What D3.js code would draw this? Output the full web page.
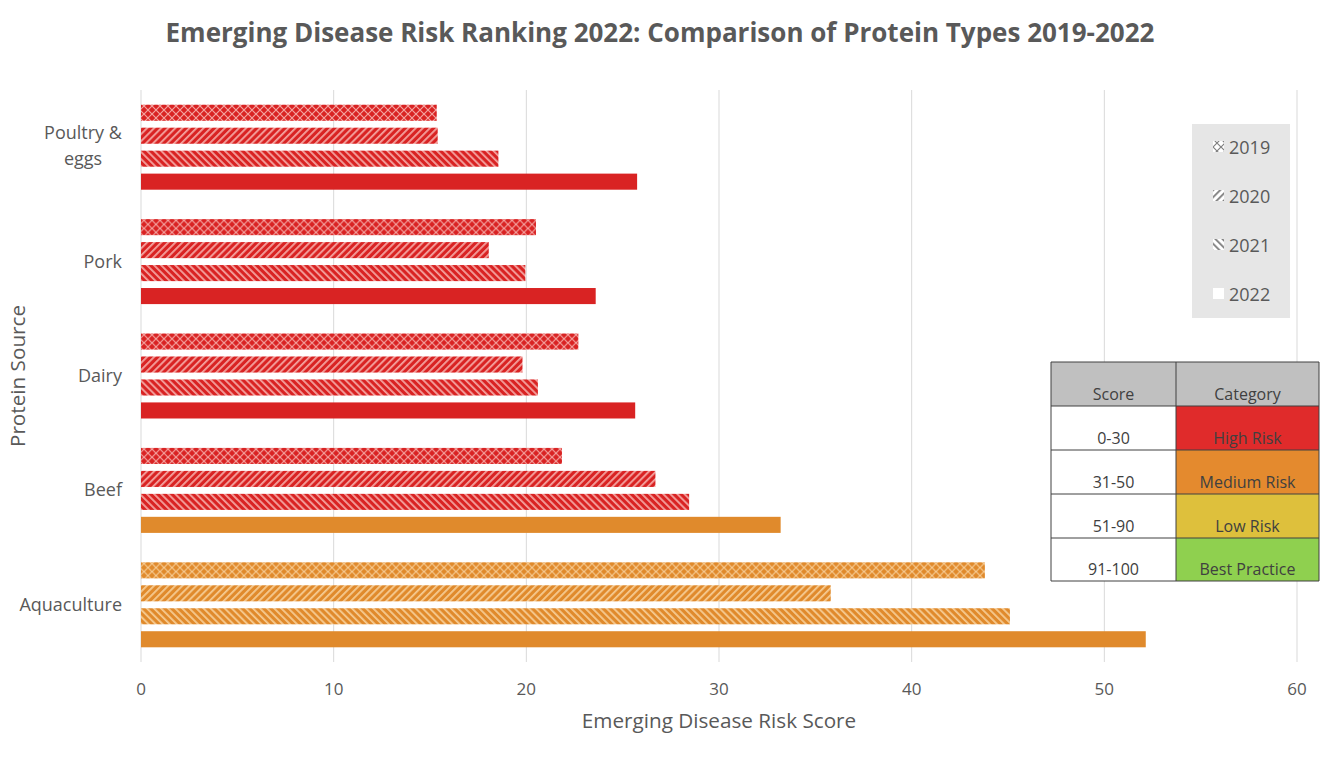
<!DOCTYPE html>
<html>
<head>
<meta charset="utf-8">
<script src="https://cdn.jsdelivr.net/npm/d3@7"></script>
<style>
  body { margin: 0; background: #fff; }
  svg { font-family: "Open Sans", sans-serif; }
</style>
</head>
<body>
<div id="chart"></div>
<script>
const width = 1320;
const height = 757;

// data
const categories = ["Poultry & eggs", "Pork", "Dairy", "Beef", "Aquaculture"];
const years = ["2019", "2020", "2021", "2022"];
const values2019 = [15.35, 20.5, 22.7, 21.85, 43.8];
const values2020 = [15.4, 18.05, 19.8, 26.7, 35.8];
const values2021 = [18.55, 19.95, 20.6, 28.45, 45.1];
const values2022 = [25.75, 23.6, 25.65, 33.2, 52.15];
const xTicks = [0, 10, 20, 30, 40, 50, 60];
const tableScores = ["0-30", "31-50", "51-90", "91-100"];
const tableCategories = ["High Risk", "Medium Risk", "Low Risk", "Best Practice"];

const seriesValues = [values2019, values2020, values2021, values2022];
const riskColors = {
    high: { base: "#d92323", light: "#f4a3a0" },
    medium: { base: "#e08a2c", light: "#f6cb92" }
};
const tableColors = ["#e02b2b", "#e48a2e", "#dec03c", "#8fd04f"];
const textColor = "#595959";

const margin = { top: 90, right: 23, bottom: 95, left: 141 };

const svg = d3.select("#chart")
    .append("svg")
    .attr("width", width)
    .attr("height", height);

const defs = svg.append("defs");

// hatch patterns for each year / risk colour
function makePatterns(key, base, light) {
    const p19 = defs.append("pattern")
        .attr("id", "p2019-" + key)
        .attr("patternUnits", "userSpaceOnUse")
        .attr("width", 8).attr("height", 8);
    p19.append("rect").attr("width", 8).attr("height", 8).attr("fill", base);
    p19.append("path")
        .attr("d", "M0,0 L8,8 M8,0 L0,8")
        .attr("stroke", light).attr("stroke-width", 1.2);

    const p20 = defs.append("pattern")
        .attr("id", "p2020-" + key)
        .attr("patternUnits", "userSpaceOnUse")
        .attr("width", 5).attr("height", 5)
        .attr("patternTransform", "rotate(45)");
    p20.append("rect").attr("width", 5).attr("height", 5).attr("fill", base);
    p20.append("rect").attr("width", 1.8).attr("height", 5).attr("fill", light);

    const p21 = defs.append("pattern")
        .attr("id", "p2021-" + key)
        .attr("patternUnits", "userSpaceOnUse")
        .attr("width", 5).attr("height", 5)
        .attr("patternTransform", "rotate(-45)");
    p21.append("rect").attr("width", 5).attr("height", 5).attr("fill", base);
    p21.append("rect").attr("width", 1.8).attr("height", 5).attr("fill", light);
}
Object.keys(riskColors).forEach(k => makePatterns(k, riskColors[k].base, riskColors[k].light));
makePatterns("legend", "#ffffff", "#7f7f7f");

// scores up to 30 are high risk, above that medium
const riskOf = v => v <= 30 ? "high" : "medium";

function fillFor(year, risk) {
    if (year === "2022") return riskColors[risk].base;
    return "url(#p" + year + "-" + risk + ")";
}

const x = d3.scaleLinear()
    .domain([0, 60])
    .range([margin.left, width - margin.right]);

const y = d3.scaleBand()
    .domain(categories)
    .range([margin.top, height - margin.bottom]);

const yInner = d3.scaleBand()
    .domain(years)
    .range([0, y.bandwidth()])
    .paddingInner(0.3)
    .paddingOuter(0.64);

const plotBottom = height - margin.bottom;

// gridlines
svg.append("g")
    .selectAll("line")
    .data(xTicks)
    .join("line")
    .attr("x1", d => x(d)).attr("x2", d => x(d))
    .attr("y1", margin.top).attr("y2", plotBottom)
    .attr("stroke", "#d9d9d9")
    .attr("stroke-width", 1);

// bars
const groups = svg.append("g")
    .selectAll("g")
    .data(categories)
    .join("g")
    .attr("transform", d => `translate(0,${y(d)})`);

groups.selectAll("rect")
    .data((c, i) => years.map((yr, j) => ({ year: yr, value: seriesValues[j][i] })))
    .join("rect")
    .attr("x", x(0))
    .attr("y", d => yInner(d.year))
    .attr("width", d => x(d.value) - x(0))
    .attr("height", yInner.bandwidth())
    .attr("fill", d => fillFor(d.year, riskOf(d.value)));

// x axis labels
svg.append("g")
    .selectAll("text")
    .data(xTicks)
    .join("text")
    .attr("x", d => x(d))
    .attr("y", 695)
    .attr("text-anchor", "middle")
    .attr("font-size", 17)
    .attr("fill", textColor)
    .text(d => d);

// category labels
const catLabels = svg.append("g")
    .selectAll("text")
    .data(categories)
    .join("text")
    .attr("font-size", 18)
    .attr("fill", textColor);

catLabels.each(function(d) {
    const t = d3.select(this);
    const cy = y(d) + y.bandwidth() / 2;
    if (d === "Poultry & eggs") {
        const lines = ["Poultry &", "eggs"];
        t.attr("text-anchor", "middle").attr("x", 83);
        lines.forEach((l, i) => {
            t.append("tspan")
                .attr("x", 83)
                .attr("y", cy - 8 + i * 26)
                .text(l);
        });
    } else {
        t.attr("text-anchor", "end")
            .attr("x", 122)
            .attr("y", cy + 6)
            .text(d);
    }
});

// axis titles
svg.append("text")
    .attr("x", (x(0) + x(60)) / 2)
    .attr("y", 728)
    .attr("text-anchor", "middle")
    .attr("font-size", 20.7)
    .attr("fill", textColor)
    .text("Emerging Disease Risk Score");

svg.append("text")
    .attr("transform", `translate(25,${(margin.top + plotBottom) / 2}) rotate(-90)`)
    .attr("text-anchor", "middle")
    .attr("font-size", 20.7)
    .attr("fill", textColor)
    .text("Protein Source");

// title
svg.append("text")
    .attr("x", 660)
    .attr("y", 42)
    .attr("text-anchor", "middle")
    .attr("font-size", 26)
    .attr("font-weight", "bold")
    .attr("fill", textColor)
    .text("Emerging Disease Risk Ranking 2022: Comparison of Protein Types 2019-2022");

// legend
const legend = svg.append("g");
legend.append("rect")
    .attr("x", 1192).attr("y", 124)
    .attr("width", 98).attr("height", 194)
    .attr("fill", "#e6e6e6");

const legendItems = legend.selectAll("g")
    .data(years)
    .join("g")
    .attr("transform", (d, i) => `translate(1213,${147 + i * 49})`);

legendItems.append("rect")
    .attr("x", 0).attr("y", -6)
    .attr("width", 11).attr("height", 11)
    .attr("fill", d => d === "2022" ? "#ffffff" : "url(#p" + d + "-legend)");

legendItems.append("text")
    .attr("x", 16)
    .attr("y", 6.5)
    .attr("font-size", 18)
    .attr("fill", textColor)
    .text(d => d);

// score table
const table = svg.append("g");
const colX = [1051, 1176, 1319];
const rowY = [362, 406, 450, 494, 538, 581];

table.append("rect")
    .attr("x", colX[0]).attr("y", rowY[0])
    .attr("width", colX[2] - colX[0]).attr("height", rowY[1] - rowY[0])
    .attr("fill", "#c0c0c0");

tableScores.forEach((s, i) => {
    table.append("rect")
        .attr("x", colX[0]).attr("y", rowY[i + 1])
        .attr("width", colX[1] - colX[0]).attr("height", rowY[i + 2] - rowY[i + 1])
        .attr("fill", "#ffffff");
    table.append("rect")
        .attr("x", colX[1]).attr("y", rowY[i + 1])
        .attr("width", colX[2] - colX[1]).attr("height", rowY[i + 2] - rowY[i + 1])
        .attr("fill", tableColors[i]);
});

// grid lines of the table
rowY.forEach(ry => {
    table.append("line")
        .attr("x1", colX[0]).attr("x2", colX[2])
        .attr("y1", ry).attr("y2", ry)
        .attr("stroke", "#404040").attr("stroke-width", 1);
});
colX.forEach(cx => {
    table.append("line")
        .attr("x1", cx).attr("x2", cx)
        .attr("y1", rowY[0]).attr("y2", rowY[rowY.length - 1])
        .attr("stroke", "#404040").attr("stroke-width", 1);
});

const cellText = (tx, ty, txt) => table.append("text")
    .attr("x", tx).attr("y", ty)
    .attr("text-anchor", "middle")
    .attr("font-size", 16)
    .attr("fill", "#404040")
    .text(txt);

cellText((colX[0] + colX[1]) / 2, rowY[1] - 6, "Score");
cellText((colX[1] + colX[2]) / 2, rowY[1] - 6, "Category");
tableScores.forEach((s, i) => {
    cellText((colX[0] + colX[1]) / 2, rowY[i + 2] - 6, s);
    cellText((colX[1] + colX[2]) / 2, rowY[i + 2] - 6, tableCategories[i]);
});
</script>
</body>
</html>
